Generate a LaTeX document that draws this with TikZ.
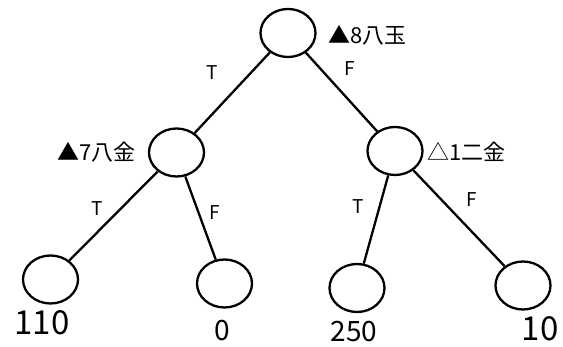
\documentclass[tikz,border=0pt]{standalone}
\usepackage{fontspec}
\setmainfont{Noto Sans CJK JP}
\usetikzlibrary{shapes.geometric}
\begin{document}
\begin{tikzpicture}[x=1pt,y=-1pt,
  state/.style={ellipse,draw,line width=2.3pt,minimum width=55pt,minimum height=48pt,inner sep=0pt},
  branch/.style={line width=2.3pt},
  move/.style={font=\fontsize{22}{26}\selectfont,inner sep=0pt},
  tf/.style={font=\fontsize{19}{23}\selectfont,inner sep=0pt},
  score/.style={inner sep=0pt}]
\useasboundingbox (0,0) rectangle (563,347);
% game tree nodes
\node[state] (r)  at (288,33)  {};
\node[state] (a)  at (176.5,152.5) {};
\node[state] (b)  at (395,151) {};
\node[state] (a1) at (50.5,279.5) {};
\node[state] (a2) at (224.5,283.5) {};
\node[state] (b1) at (357,288) {};
\node[state] (b2) at (523,285.5) {};
% branches
\draw[branch] (r) -- (a);
\draw[branch] (r) -- (b);
\draw[branch] (a) -- (a1);
\draw[branch] (a) -- (a2);
\draw[branch] (b) -- (b1);
\draw[branch] (b) -- (b2);
% moves
\node[move,anchor=west] (mr) at (328,35) {▲8八玉};
\node[move,anchor=east] (ma) at (136,152) {▲7八金};
\node[move,anchor=west] (mb) at (427,152) {△1二金};
% branch labels
\node[tf] (t1) at (212,73) {T};
\node[tf] (f1) at (350,69) {F};
\node[tf] (t2) at (97,209) {T};
\node[tf] (f2) at (215,213) {F};
\node[tf] (t3) at (358,207) {T};
\node[tf] (f3) at (472,200) {F};
% leaf scores
\node[score,font=\fontsize{33}{37}\selectfont] (s1) at (42,323) {110};
\node[score,font=\fontsize{28}{32}\selectfont] (s2) at (222,331) {0};
\node[score,font=\fontsize{28}{32}\selectfont] (s3) at (354,332) {250};
\node[score,font=\fontsize{33}{37}\selectfont] (s4) at (540,329) {10};
\end{tikzpicture}
\end{document}
